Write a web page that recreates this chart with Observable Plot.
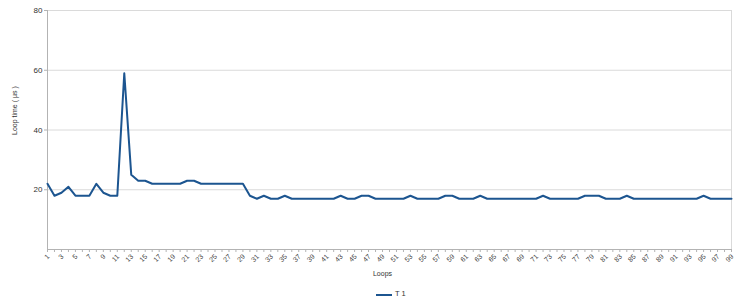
<!DOCTYPE html>
<html>
<head>
<meta charset="utf-8">
<script src="https://cdn.jsdelivr.net/npm/d3@7"></script>
<script src="https://cdn.jsdelivr.net/npm/@observablehq/plot@0.6"></script>
<style>
  html, body { margin: 0; padding: 0; background: #fff; }
  body { width: 746px; height: 305px; overflow: hidden; font-family: "Liberation Sans", Arial, sans-serif; }
  #legend { position: relative; height: 22px; width: 746px; }
  #legend .swatch { position: absolute; left: 376px; top: 11px; width: 16px; height: 0; border-top: 2px solid #1c5590; }
  #legend .label { position: absolute; left: 395px; top: 6px; font-size: 7.5px; color: #333; line-height: 10px; }
</style>
</head>
<body>
<div id="chart"></div>
<div id="legend"><span class="swatch"></span><span class="label" id="legend-label"></span></div>
<script>
const loops = [1,2,3,4,5,6,7,8,9,10,11,12,13,14,15,16,17,18,19,20,21,22,23,24,25,26,27,28,29,30,31,32,33,34,35,36,37,38,39,40,41,42,43,44,45,46,47,48,49,50,51,52,53,54,55,56,57,58,59,60,61,62,63,64,65,66,67,68,69,70,71,72,73,74,75,76,77,78,79,80,81,82,83,84,85,86,87,88,89,90,91,92,93,94,95,96,97,98,99];
const loopTime = [22,18,19,21,18,18,18,22,19,18,18,59,25,23,23,22,22,22,22,22,23,23,22,22,22,22,22,22,22,18,17,18,17,17,18,17,17,17,17,17,17,17,18,17,17,18,18,17,17,17,17,17,18,17,17,17,17,18,18,17,17,17,18,17,17,17,17,17,17,17,17,18,17,17,17,17,17,18,18,18,17,17,17,18,17,17,17,17,17,17,17,17,17,17,18,17,17,17,17];
const xLabelTicks = [1,3,5,7,9,11,13,15,17,19,21,23,25,27,29,31,33,35,37,39,41,43,45,47,49,51,53,55,57,59,61,63,65,67,69,71,73,75,77,79,81,83,85,87,89,91,93,95,97,99];
const yTicks = [20,40,60,80];
const seriesName = "T 1";
const xTitle = "Loops";
const yTitle = "Loop time ( µs )";

const data = loops.map((l, i) => ({loop: l, time: loopTime[i]}));
const lineColor = "#1c5590";

const chart = Plot.plot({
  width: 746,
  height: 283,
  marginLeft: 47,
  marginRight: 15,
  marginTop: 10,
  marginBottom: 34,
  style: {fontFamily: "'Liberation Sans', Arial, sans-serif", fontSize: "8px", color: "#333", background: "#fff", overflow: "visible"},
  x: {type: "point", domain: loops, padding: 0, label: null},
  y: {domain: [0, 80], label: null},
  marks: [
    Plot.ruleY(yTicks, {stroke: "#dadada", strokeWidth: 1}),
    Plot.ruleX([loops[loops.length - 1]], {stroke: "#dadada", strokeWidth: 1}),
    Plot.axisX({ticks: loops, tickSize: 3, tickFormat: () => "", stroke: "#b3b3b3", label: null}),
    Plot.axisX({ticks: xLabelTicks, tickSize: 0, tickPadding: 6, tickRotate: -45, dx: 1, label: null, fill: "#444", fontSize: 7}),
    Plot.axisY({ticks: yTicks, tickSize: 3, tickPadding: 2, stroke: "#b3b3b3", label: null, fill: "#333"}),
    Plot.ruleX([loops[0]], {stroke: "#b3b3b3", strokeWidth: 1}),
    Plot.ruleY([0], {stroke: "#b3b3b3", strokeWidth: 1}),
    Plot.line(data, {x: "loop", y: "time", stroke: lineColor, strokeWidth: 2, strokeLinejoin: "round"}),
    Plot.text([xTitle], {frameAnchor: "bottom", dy: 26, dx: -7, fontSize: 7, fill: "#333"}),
    Plot.text([yTitle], {frameAnchor: "left", rotate: -90, dx: -33, dy: 5, fontSize: 7, fill: "#333"})
  ]
});
document.getElementById("chart").appendChild(chart);
document.getElementById("legend-label").textContent = seriesName;
</script>
</body>
</html>
